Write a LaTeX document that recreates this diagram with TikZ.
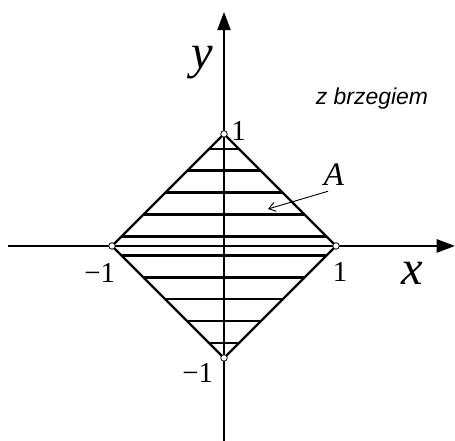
\documentclass[tikz,border=0pt]{standalone}
\usepackage{fontspec}
\setmainfont{Liberation Serif}
\newfontfamily\arialfont{Liberation Sans}
\usetikzlibrary{arrows.meta}

\tikzset{
  axislabel/.style={font=\fontsize{37}{37}\selectfont\itshape},
  ticklabel/.style={font=\fontsize{22}{22}\selectfont},
  vertex/.style={line width=0.6pt,fill=white}
}

\begin{document}
\begin{tikzpicture}[x=3cm,y=3cm,line width=1.7pt,>={Triangle[length=14pt,width=10pt]}]
\useasboundingbox (-2,-1.741) rectangle (2.0625,2.196);
\coordinate (xl) at (-1.93,0);
\coordinate (xr) at (2.0625,0);
\coordinate (yb) at (0,-1.75);
\coordinate (yt) at (0,2.09);
\coordinate (L) at (-1,0);
\coordinate (T) at (0,1);
\coordinate (R) at (1,0);
\coordinate (B) at (0,-1);
\draw[->](xl)--(xr);
\draw[->](yb)--(yt);
\foreach \h in {0.085,0.281,0.477,0.673,0.869}{
  \draw(-1+\h,\h)--(1-\h,\h);
  \draw(-1+\h,-\h)--(1-\h,-\h);}
\draw[line join=miter](L)--(T)--(R)--(B)--cycle;
\foreach \p in {L,T,R,B} \draw[vertex](\p)circle[radius=2.5pt];
\node[axislabel] (ylab) at (-0.19,1.634) {y};
\node[axislabel] (xlab) at (1.68,-0.241) {x};
\node[font=\fontsize{17.5}{17.5}\selectfont\arialfont\itshape] (note) at (1.321,1.3125) {z brzegiem};
\node[ticklabel] (t1) at (0.13,1.03) {1};
\node[ticklabel] (r1) at (1.036,-0.235) {1};
\node[ticklabel] (l1) at (-1.11,-0.241) {−1};
\node[ticklabel] (b1) at (-0.235,-1.134) {−1};
\node[font=\fontsize{25}{25}\selectfont\itshape] (A) at (0.982,0.634) {A};
\coordinate (Ain) at (0.393,0.330);
\draw[line width=0.7pt,-{Straight Barb[length=5pt,width=7pt]}](A.250)--(Ain);
\end{tikzpicture}
\end{document}
